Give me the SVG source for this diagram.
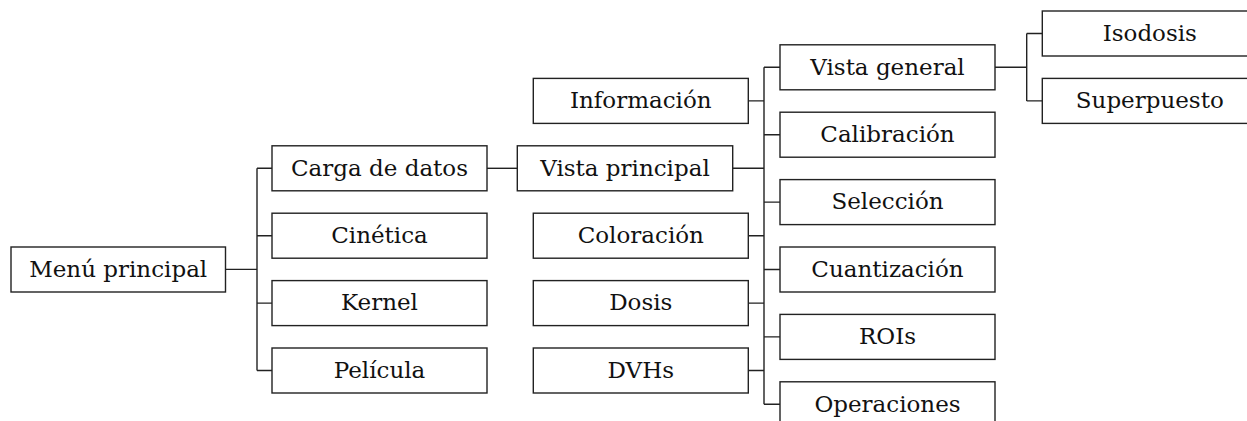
<svg xmlns="http://www.w3.org/2000/svg" width="1247" height="421" viewBox="0 0 1247 421">
<style>
.box rect{fill:#fff;stroke:#222;stroke-width:1.4}
.box text{font-family:'DejaVu Serif','Liberation Serif',serif;font-size:23px;fill:#111;text-anchor:middle}
.conn path{fill:none;stroke:#222;stroke-width:1.4}
</style>
<rect width="1247" height="421" fill="#fff"/>
<g class="conn">
<path d="M225.5 269.4H257M257 168.3V370.5M257 168.3H272M257 235.7H272M257 303.1H272M257 370.5H272"/>
<path d="M487 168.3H517.3"/>
<path d="M732.7 168.3H764M748.3 100.9H764M748.3 235.7H764M748.3 303.1H764M748.3 370.5H764M764 67.3V404.3M764 67.3H780M764 134.7H780M764 202.1H780M764 269.5H780M764 336.9H780M764 404.3H780"/>
<path d="M995 67.3H1026.7M1026.7 33.5V100.9M1026.7 33.5H1042.3M1026.7 100.9H1042.3"/>
</g>
<g id="menu" class="box"><rect x="11" y="247" width="214.5" height="45"/><text x="118.2" y="276.8">Menú principal</text></g>
<g id="carga" class="box"><rect x="272" y="145.8" width="215" height="45"/><text x="379.5" y="175.6">Carga de datos</text></g>
<g id="cinetica" class="box"><rect x="272" y="213.2" width="215" height="45"/><text x="379.5" y="243">Cinética</text></g>
<g id="kernel" class="box"><rect x="272" y="280.6" width="215" height="45"/><text x="379.5" y="310.4">Kernel</text></g>
<g id="pelicula" class="box"><rect x="272" y="348" width="215" height="45"/><text x="379.5" y="377.8">Película</text></g>
<g id="vistaprincipal" class="box"><rect x="517.3" y="145.8" width="215.4" height="45"/><text x="625" y="175.6">Vista principal</text></g>
<g id="informacion" class="box"><rect x="533.3" y="78.4" width="215" height="45"/><text x="640.8" y="108.2">Información</text></g>
<g id="coloracion" class="box"><rect x="533.3" y="213.2" width="215" height="45"/><text x="640.8" y="243">Coloración</text></g>
<g id="dosis" class="box"><rect x="533.3" y="280.6" width="215" height="45"/><text x="640.8" y="310.4">Dosis</text></g>
<g id="dvhs" class="box"><rect x="533.3" y="348" width="215" height="45"/><text x="640.8" y="377.8">DVHs</text></g>
<g id="vistageneral" class="box"><rect x="780" y="44.8" width="215" height="45"/><text x="887.5" y="74.6">Vista general</text></g>
<g id="calibracion" class="box"><rect x="780" y="112.2" width="215" height="45"/><text x="887.5" y="142">Calibración</text></g>
<g id="seleccion" class="box"><rect x="780" y="179.6" width="215" height="45"/><text x="887.5" y="209.4">Selección</text></g>
<g id="cuantizacion" class="box"><rect x="780" y="247" width="215" height="45"/><text x="887.5" y="276.8">Cuantización</text></g>
<g id="rois" class="box"><rect x="780" y="314.4" width="215" height="45"/><text x="887.5" y="344.2">ROIs</text></g>
<g id="operaciones" class="box"><rect x="780" y="381.8" width="215" height="45"/><text x="887.5" y="411.6">Operaciones</text></g>
<g id="isodosis" class="box"><rect x="1042.3" y="11" width="215" height="45"/><text x="1149.8" y="40.8">Isodosis</text></g>
<g id="superpuesto" class="box"><rect x="1042.3" y="78.4" width="215" height="45"/><text x="1149.8" y="108.2">Superpuesto</text></g>
</svg>
